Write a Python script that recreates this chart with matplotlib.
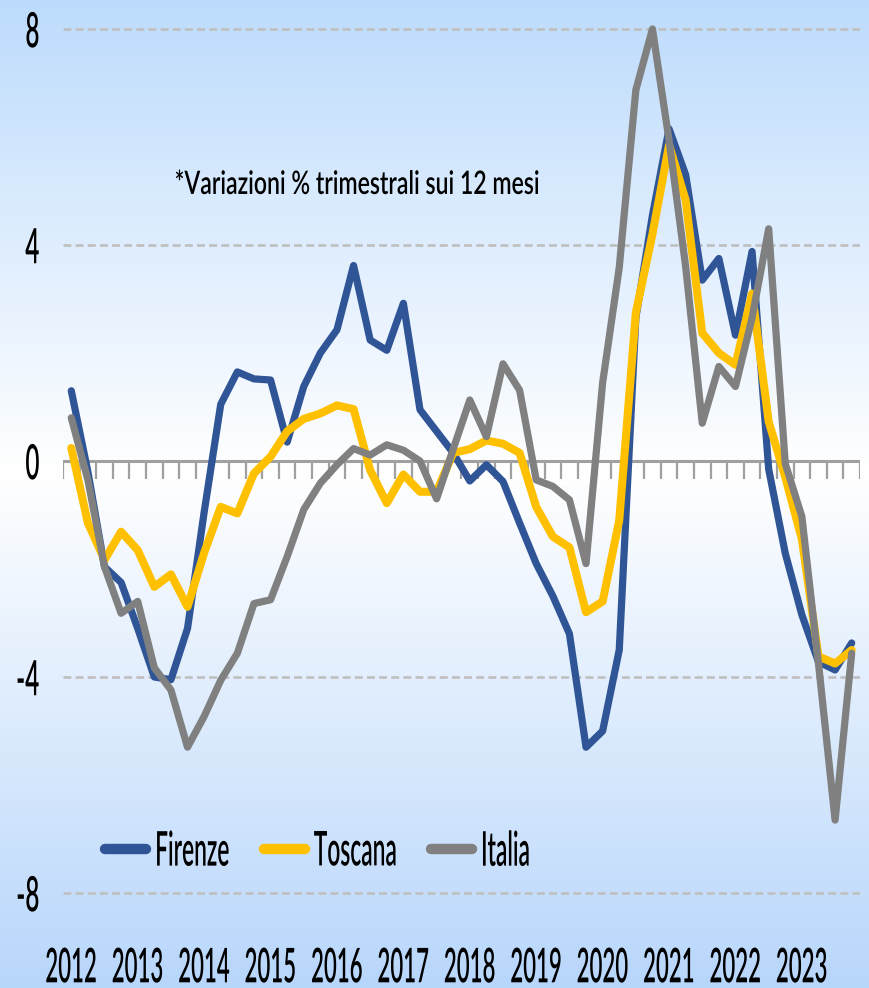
import numpy as np
import matplotlib.pyplot as plt
from matplotlib import patheffects
from matplotlib.transforms import Affine2D

# Variazioni % trimestrali sui 12 mesi, 2012 Q1 - 2023 Q4
anni = ["2012", "2013", "2014", "2015", "2016", "2017",
        "2018", "2019", "2020", "2021", "2022", "2023"]

firenze = [1.3, -0.2, -1.96, -2.25, -3.1, -4.0, -4.05, -3.1, -0.95, 1.05, 1.65, 1.52,
           1.5, 0.35, 1.38, 2.0, 2.43, 3.62, 2.24, 2.05, 2.92, 0.95, 0.55, 0.15,
           -0.37, -0.07, -0.38, -1.15, -1.9, -2.5, -3.2, -5.3, -5.0, -3.5, 2.65, 4.55,
           6.15, 5.3, 3.35, 3.75, 2.33, 3.88, -0.15, -1.71, -2.85, -3.72, -3.87, -3.37]

toscana = [0.24, -1.15, -1.83, -1.31, -1.65, -2.33, -2.1, -2.7, -1.7, -0.85, -0.97, -0.23,
           0.08, 0.55, 0.78, 0.88, 1.03, 0.96, -0.17, -0.78, -0.25, -0.57, -0.57, 0.15,
           0.22, 0.38, 0.32, 0.15, -0.85, -1.4, -1.6, -2.8, -2.6, -1.1, 2.75, 4.2,
           5.85, 4.83, 2.37, 2.0, 1.78, 3.1, 0.73, -0.3, -1.45, -3.62, -3.75, -3.5]

italia = [0.8, -0.35, -1.96, -2.82, -2.6, -3.83, -4.24, -5.3, -4.73, -4.06, -3.56, -2.64,
          -2.57, -1.77, -0.9, -0.41, -0.07, 0.23, 0.11, 0.3, 0.2, 0.0, -0.7, 0.22,
          1.13, 0.45, 1.8, 1.31, -0.35, -0.47, -0.72, -1.9, 1.45, 3.58, 6.87, 8.0,
          5.94, 3.6, 0.7, 1.75, 1.38, 2.65, 4.3, -0.05, -1.03, -3.75, -6.65, -3.56]

serie = ["Firenze", "Toscana", "Italia"]
colori = ["#2F5597", "#FFC000", "#808080"]
spessori = [5.2, 5.8, 5.2]
yticks = [-8, -4, 0, 4, 8]


class Allunga(patheffects.AbstractPathEffect):
    # testo stretto e alto: scala i glifi in verticale attorno al centro
    def __init__(self, sy):
        super().__init__()
        self.sy = sy

    def draw_path(self, renderer, gc, tpath, affine, rgbFace=None):
        pts = affine.transform(tpath.vertices)
        if len(pts) == 0:
            return
        y0 = 0.5 * (pts[:, 1].min() + pts[:, 1].max())
        tr = affine + Affine2D().translate(0, -y0).scale(1.0, self.sy).translate(0, y0)
        renderer.draw_path(gc, tpath, tr, rgbFace)


plt.rcParams['font.family'] = ['Lato', 'DejaVu Sans']
plt.rcParams['font.weight'] = 'semibold'

W, H = 869, 988
fig = plt.figure(figsize=(W / 100, H / 100), dpi=100)

# sfondo sfumato azzurro - bianco - azzurro
bg = fig.add_axes([0, 0, 1, 1], zorder=0)
t = np.linspace(0, 1, 400)
top = np.array([0.74, 0.86, 0.99])
mid = np.array([1.0, 1.0, 1.0])
bot = np.array([0.72, 0.84, 0.985])
img = np.zeros((len(t), 1, 3))
for k in range(3):
    img[:, 0, k] = np.interp(t, [0, 0.48, 1], [top[k], mid[k], bot[k]])
bg.imshow(img, aspect='auto', extent=(0, 1, 0, 1))
bg.set_axis_off()

ax = fig.add_axes([63 / W, 68 / H, 797 / W, 918 / H], zorder=1)
ax.patch.set_alpha(0)
x = np.arange(len(firenze))
ax.set_xlim(-0.5, len(x) - 0.5)
ax.set_ylim(-8.5, 8.5)

for v in yticks:
    if v != 0:
        ax.axhline(v, color='#BFBFBF', lw=1.9, dashes=(3, 1.6), zorder=1)
ax.axhline(0, color='#A0A0A0', lw=2.2, zorder=2)
ax.vlines(np.arange(len(x) + 1) - 0.5, -0.33, 0, color='#A0A0A0', lw=1.6, zorder=2)

linee = []
for dati, nome, col, lw in zip([firenze, toscana, italia], serie, colori, spessori):
    ln, = ax.plot(x, dati, color=col, lw=lw, solid_joinstyle='round',
                  solid_capstyle='round', clip_on=False, zorder=3, label=nome)
    linee.append(ln)

for s in ax.spines.values():
    s.set_visible(False)
ax.set_yticks(yticks, [str(v) for v in yticks])
ax.set_xticks(x[::4], anni)
ax.tick_params(axis='y', length=0, pad=17, labelsize=17.5)
ax.tick_params(axis='x', length=0, pad=26, labelsize=16)
for lbl in ax.get_yticklabels():
    lbl.set_path_effects([Allunga(2.0)])
for lbl in ax.get_xticklabels():
    lbl.set_path_effects([Allunga(2.15)])

fig.text(357 / W, 1 - 184 / H, "*Variazioni % trimestrali sui 12 mesi",
         ha='center', va='center', fontsize=16.6, path_effects=[Allunga(1.4)])

leg = fig.legend(linee, serie, loc='center left', bbox_to_anchor=(105 / W, 1 - 850 / H),
                 ncol=3, frameon=False, fontsize=16.4, handlelength=1.8,
                 handletextpad=0.4, columnspacing=1.5, borderpad=0, borderaxespad=0)
for h in leg.get_lines():
    h.set_linewidth(7.5)
    h.set_solid_capstyle('round')
for txt in leg.get_texts():
    txt.set_path_effects([Allunga(2.1)])

fig.savefig('out.png', dpi=100)
